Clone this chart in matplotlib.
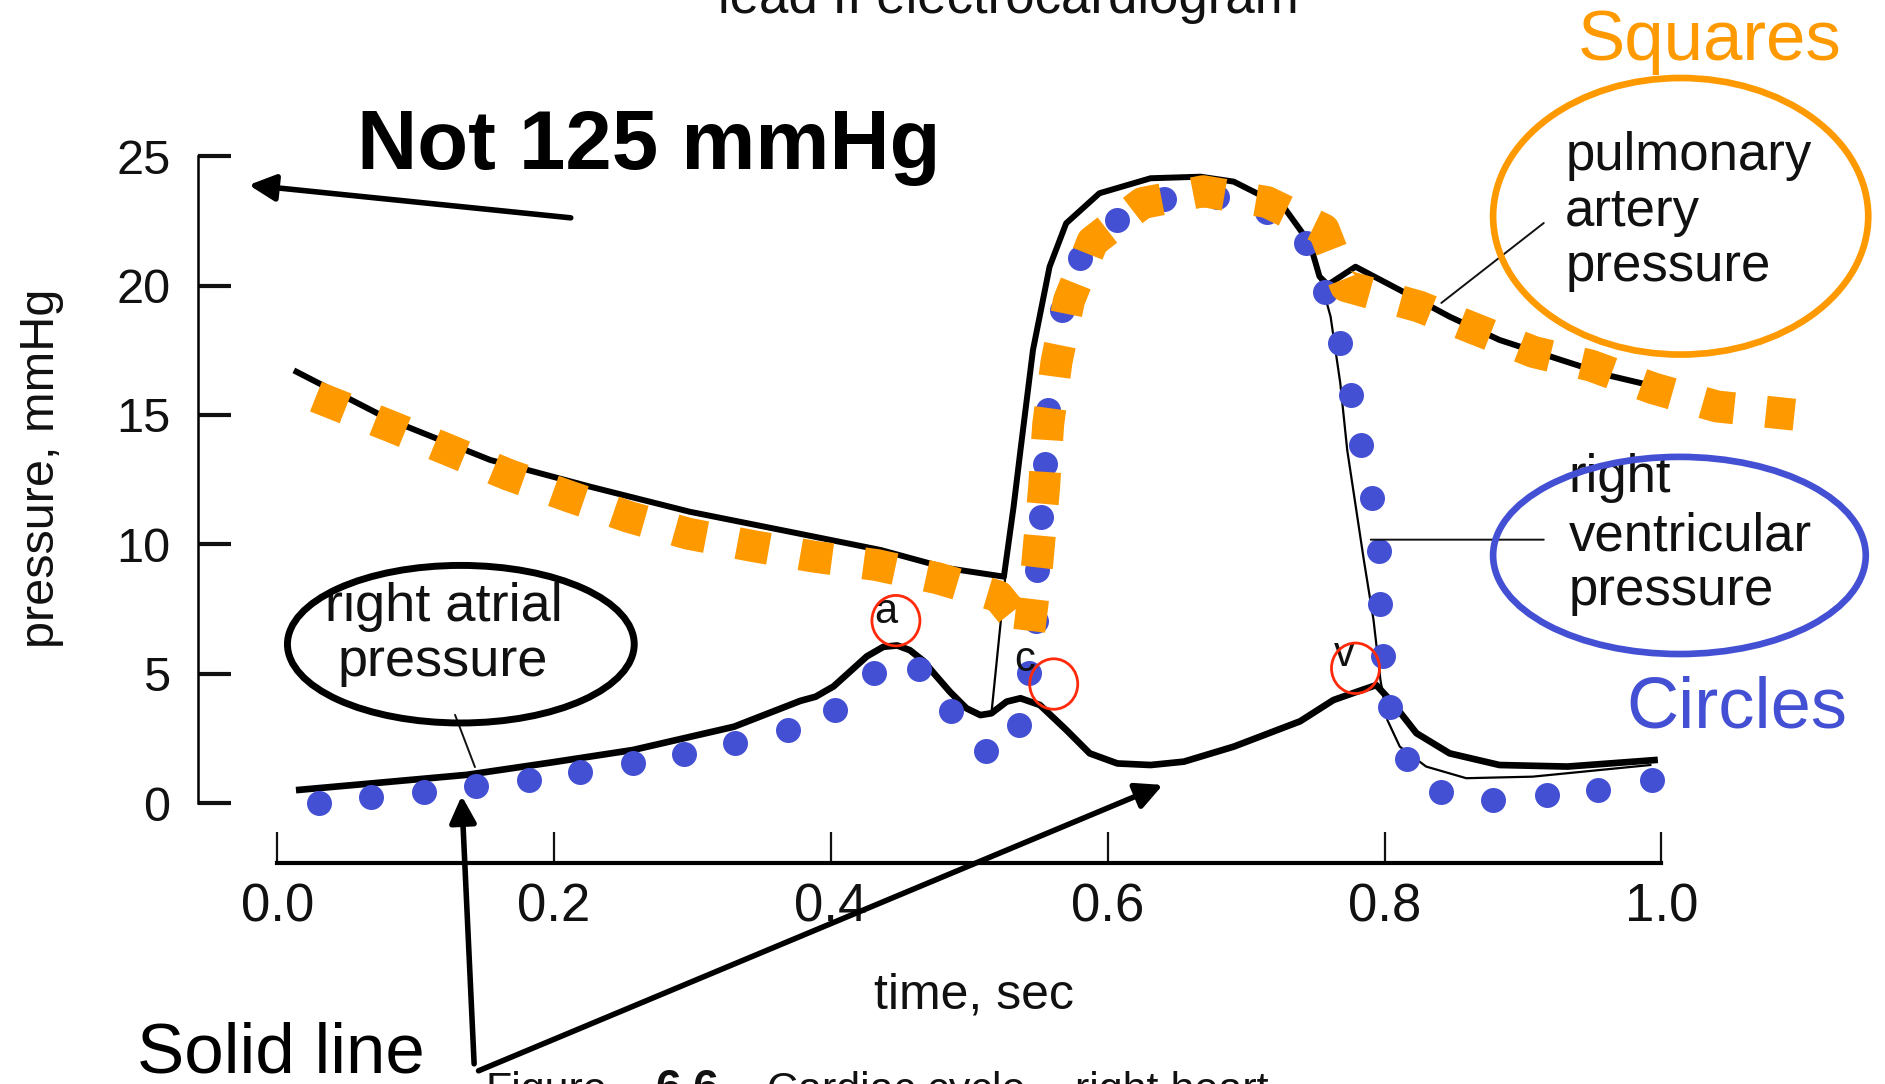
import matplotlib
matplotlib.use("Agg")
import matplotlib.pyplot as plt
from matplotlib.patches import Ellipse

plt.rcParams["font.family"] = ["Liberation Sans", "DejaVu Sans"]

# right atrial pressure, mmHg (thick trace)
RA_T = [0.016, 0.060, 0.137, 0.197, 0.257, 0.330, 0.378, 0.389, 0.402, 0.414,
        0.426, 0.438, 0.448, 0.457, 0.467, 0.474, 0.486, 0.498, 0.508, 0.516,
        0.527, 0.537, 0.551, 0.570, 0.587, 0.607, 0.631, 0.655, 0.691, 0.739,
        0.763, 0.781, 0.794, 0.806, 0.823, 0.847, 0.883, 0.932, 0.980, 0.995]
RA_P = [0.51, 0.72, 1.09, 1.56, 2.05, 2.95, 3.95, 4.11, 4.51, 5.09,
        5.67, 6.04, 6.09, 5.91, 5.49, 5.04, 4.30, 3.66, 3.40, 3.47,
        3.92, 4.05, 3.79, 2.83, 1.92, 1.53, 1.47, 1.60, 2.18, 3.16,
        3.98, 4.32, 4.56, 3.86, 2.70, 1.92, 1.47, 1.41, 1.60, 1.66]

# right ventricular pressure (thin trace, from end of diastole)
RV_T = [0.516, 0.526, 0.532, 0.537, 0.546, 0.558, 0.570, 0.594, 0.631, 0.667,
        0.691, 0.727, 0.746, 0.753, 0.761, 0.768, 0.773, 0.785, 0.792, 0.797,
        0.802, 0.811, 0.830, 0.859, 0.907, 0.956, 0.992]
RV_P = [3.47, 8.74, 11.45, 13.65, 17.51, 20.73, 22.41, 23.57, 24.15, 24.21,
        24.02, 23.05, 21.64, 20.35, 18.80, 16.23, 13.65, 9.40, 7.08, 4.76,
        3.21, 2.18, 1.41, 0.96, 1.02, 1.28, 1.47]

# pulmonary artery pressure
PA_T = [0.014, 0.082, 0.154, 0.226, 0.298, 0.370, 0.436, 0.484, 0.525, 0.532,
        0.537, 0.546, 0.558, 0.570, 0.594, 0.631, 0.667, 0.691, 0.727, 0.746,
        0.753, 0.759, 0.779, 0.811, 0.847, 0.883, 0.929, 0.964, 0.994]
PA_P = [16.67, 14.80, 13.26, 12.23, 11.26, 10.49, 9.78, 9.08, 8.75, 11.45,
        13.65, 17.51, 20.73, 22.41, 23.57, 24.15, 24.21, 24.02, 23.05, 21.64,
        20.35, 20.03, 20.73, 19.83, 18.80, 17.90, 17.10, 16.50, 16.12]

# overlay: orange squares (pulmonary artery)
SQ_T = [0.028, 0.083, 0.125, 0.167, 0.211, 0.254, 0.297, 0.343, 0.387, 0.433,
        0.477, 0.521, 0.543, 0.549, 0.554, 0.557, 0.563, 0.572, 0.589, 0.625,
        0.669, 0.715, 0.756, 0.772, 0.825, 0.866, 0.908, 0.949, 0.994, 1.040,
        1.096]
SQ_P = [15.71, 14.54, 13.62, 12.69, 11.85, 11.06, 10.41, 9.94, 9.53, 9.20,
        8.69, 7.99, 6.51, 9.20, 12.17, 14.64, 17.05, 19.42, 21.70, 23.19,
        23.65, 23.23, 22.17, 19.98, 19.19, 18.31, 17.43, 16.91, 16.03, 15.33,
        15.01]

# overlay: blue circles (right ventricle)
CI_T = [0.030, 0.068, 0.106, 0.144, 0.182, 0.219, 0.257, 0.294, 0.331, 0.369,
        0.403, 0.431, 0.464, 0.487, 0.512, 0.536, 0.543, 0.548, 0.549, 0.552,
        0.555, 0.557, 0.561, 0.567, 0.580, 0.607, 0.641, 0.679, 0.715, 0.743,
        0.757, 0.768, 0.776, 0.783, 0.791, 0.796, 0.797, 0.799, 0.804, 0.816,
        0.841, 0.878, 0.917, 0.954, 0.993]
CI_P = [0.00, 0.23, 0.42, 0.65, 0.88, 1.21, 1.53, 1.88, 2.32, 2.83,
        3.58, 5.02, 5.18, 3.55, 2.00, 3.02, 5.02, 7.02, 9.01, 11.06,
        13.10, 15.20, 17.15, 19.05, 21.05, 22.54, 23.33, 23.44, 22.86, 21.63,
        19.77, 17.80, 15.78, 13.85, 11.80, 9.76, 7.71, 5.68, 3.72, 1.72,
        0.44, 0.12, 0.30, 0.51, 0.88]

X_TICKS = [0.0, 0.2, 0.4, 0.6, 0.8, 1.0]
X_LABELS = ["0.0", "0.2", "0.4", "0.6", "0.8", "1.0"]
Y_TICKS = [0, 5, 10, 15, 20, 25]
Y_LABELS = ["0", "5", "10", "15", "20", "25"]

ORANGE = "#FF9900"
BLUE = "#4450D4"
RED = "#FF2A0A"
INK = "#111111"

fig = plt.figure(figsize=(18.85, 10.84), dpi=100)
ax = fig.add_axes([0, 0, 1, 1])
ax.set_xlim(-0.2002, 1.1615)
ax.set_ylim(-10.86, 31.04)

for side in ("top", "right"):
    ax.spines[side].set_visible(False)
ax.spines["left"].set_position(("data", -0.057))
ax.spines["left"].set_bounds(0, 25)
ax.spines["left"].set_linewidth(1.8)
ax.spines["bottom"].set_position(("data", -2.32))
ax.spines["bottom"].set_bounds(0, 1)
ax.spines["bottom"].set_linewidth(3.0)

ax.set_xticks(X_TICKS, X_LABELS)
ax.set_yticks(Y_TICKS, Y_LABELS)
ax.tick_params(axis="x", direction="in", length=22, width=1.6, pad=14,
               labelsize=38, colors=INK)
ax.tick_params(axis="y", direction="in", length=24, width=3.0, pad=20,
               labelsize=35, colors=INK)
ax.set_xlabel("time, sec", fontsize=36, color=INK, va="center")
ax.xaxis.set_label_coords(0.503, -7.43, transform=ax.transData)
ax.set_ylabel("pressure, mmHg", fontsize=35, color=INK, va="center")
ax.yaxis.set_label_coords(-0.170, 12.92, transform=ax.transData)

# original traces
ax.plot(RA_T, RA_P, color="black", lw=4.8, solid_joinstyle="round", zorder=2)
ax.plot(RV_T, RV_P, color="black", lw=1.6, solid_joinstyle="round", zorder=2)
ax.plot(PA_T, PA_P, color="black", lw=4.3, solid_joinstyle="round", zorder=2)

# overlays
ax.plot(CI_T, CI_P, "o", ls="none", ms=18, color=BLUE, mec="none", zorder=3)
ax.plot(SQ_T, SQ_P, color=ORANGE, lw=23, dashes=(1, 1),
        dash_capstyle="butt", dash_joinstyle="round", zorder=4)

# scanned labels
for y, s in [(25.0, "pulmonary"), (22.86, "artery"), (20.72, "pressure")]:
    ax.text(0.9305, y, s, fontsize=38, color=INK, va="center", zorder=5)
for y, s in [(12.55, "right"), (10.32, "ventricular"), (8.18, "pressure")]:
    ax.text(0.933, y, s, fontsize=38, color=INK, va="center", zorder=5)
ax.text(0.1203, 7.57, "right atrial", fontsize=39, color=INK,
        ha="center", va="center", zorder=5)
ax.text(0.1194, 5.44, "pressure", fontsize=39, color=INK,
        ha="center", va="center", zorder=5)
ax.text(0.440, 7.40, "a", fontsize=30, color=INK, ha="center", va="center", zorder=5)
ax.text(0.540, 5.53, "c", fontsize=30, color=INK, ha="center", va="center", zorder=5)
ax.text(0.771, 5.72, "v", fontsize=30, color=INK, ha="center", va="center", zorder=5)

# leader lines from the scan
for tail, head in [((0.1285, 3.41), (0.1429, 1.39)),
                   ((0.915, 22.42), (0.841, 19.33)),
                   ((0.915, 10.18), (0.790, 10.18))]:
    ax.annotate("", xy=head, xytext=tail,
                arrowprops=dict(arrowstyle="-", lw=1.4, color=INK,
                                shrinkA=0, shrinkB=0), zorder=5)

# cut-off caption text
ax.text(0.3182, 30.53, "lead II electrocardiogram", fontsize=38, color=INK,
        va="baseline")
ax.text(0.1507, -11.55, "Figure", fontsize=31, color=INK, va="baseline")
ax.text(0.2731, -11.55, "6.6", fontsize=33, color=INK, weight="bold",
        va="baseline")
ax.text(0.3539, -11.55, "Cardiac cycle", fontsize=31, color=INK, va="baseline")
ax.text(0.5765, -11.55, "right heart", fontsize=31, color=INK, va="baseline")

# ellipses
ax.add_patch(Ellipse((0.1327, 6.14), 0.2505, 6.09, fill=False,
                     ec="black", lw=5, zorder=6))
ax.add_patch(Ellipse((1.0139, 22.68), 0.2710, 10.69, fill=False,
                     ec=ORANGE, lw=4.8, zorder=6))
ax.add_patch(Ellipse((1.0130, 9.57), 0.2692, 7.62, fill=False,
                     ec=BLUE, lw=4.8, zorder=6))
for cx, cy in [(0.447, 7.05), (0.561, 4.60), (0.779, 5.21)]:
    ax.add_patch(Ellipse((cx, cy), 0.0347, 1.95, fill=False,
                         ec=RED, lw=2.0, zorder=6))

# overlay annotations
ax.text(0.0578, 24.49, "Not 125 mmHg", fontsize=60, weight="bold",
        color="black", va="baseline", zorder=7)
ax.text(0.9399, 28.72, "Squares", fontsize=51, color=ORANGE,
        va="baseline", zorder=7)
ax.text(0.9748, 2.93, "Circles", fontsize=52, color=BLUE,
        va="baseline", zorder=7)
ax.text(-0.1012, -10.42, "Solid line", fontsize=51, color="black",
        va="baseline", zorder=7)

arrow = dict(arrowstyle="-|>,head_length=0.8,head_width=0.4", lw=4,
             color="black", shrinkA=0, shrinkB=0, mutation_scale=20)
ax.annotate("", xy=(-0.0205, 23.89), xytext=(0.2121, 22.62),
            arrowprops=arrow, zorder=7)
ax.annotate("", xy=(0.1333, 0.28), xytext=(0.1423, -10.08),
            arrowprops=arrow, zorder=7)
ax.annotate("", xy=(0.6398, 0.70), xytext=(0.1455, -10.35),
            arrowprops=arrow, zorder=7)

fig.savefig("out.png", dpi=100, facecolor="white")
